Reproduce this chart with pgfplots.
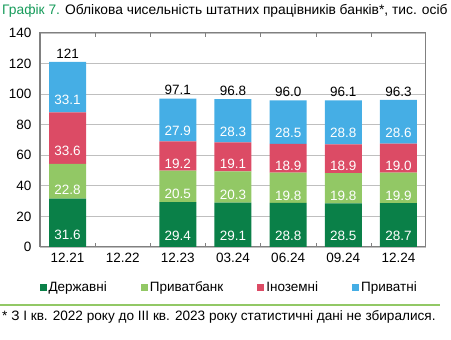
\documentclass[border=0pt]{standalone}
\usepackage{pgfplots}
\pgfplotsset{compat=1.18}
\usepackage{fontspec}
\setmainfont{Liberation Sans}
\definecolor{cDerzh}{RGB}{10,128,72}
\definecolor{cPryvat}{RGB}{146,200,101}
\definecolor{cInoz}{RGB}{220,75,101}
\definecolor{cPryv}{RGB}{69,174,229}
\definecolor{cTitle}{RGB}{22,155,90}
\definecolor{cLine}{RGB}{146,200,101}
\definecolor{cGrid}{RGB}{191,191,191}
\definecolor{cFrame}{RGB}{128,128,128}
\pgfplotsset{
  calculate offset/.code={%
    \pgfkeys{/pgf/fpu=true,/pgf/fpu/output format=fixed}%
    \pgfmathsetmacro\segoffset{\pgfplotspointmeta*0.38215}%
    \pgfkeys{/pgf/fpu=false}%
  },
  centered labels/.style={
    nodes near coords,
    nodes near coords style={/pgfplots/calculate offset, anchor=center, yshift=-\segoffset pt, text=white, font=\fontsize{13.5}{15}\selectfont,
      /pgf/number format/fixed, /pgf/number format/fixed zerofill, /pgf/number format/precision=1, /pgf/number format/assume math mode=true},
  },
  common/.style={
    at={(40pt,93pt)}, anchor=south west,
    scale only axis, width=386pt, height=214pt,
    xmin=-0.5, xmax=6.5, ymin=0, ymax=140,
  },
}
\begin{document}
\begin{tikzpicture}
\useasboundingbox (0,0) rectangle (451pt,340pt);
\node[anchor=west, inner sep=0pt, font=\fontsize{13.8}{16}\selectfont] at (2pt,329pt) {\textcolor{cTitle}{Графік 7.} Облікова чисельність штатних працівників банків*, тис. осіб};
\begin{axis}[
  common,
  ybar stacked, bar width=37pt,
  ytick={0,20,...,140},
  xtick={0,...,6},
  xticklabels={12.21,12.22,12.23,03.24,06.24,09.24,12.24},
  minor xtick={0.5,1.5,...,5.5},
  major x tick style={draw=none},
  minor tick length=4pt,
  minor x tick style={cFrame},
  y tick style={draw=none},
  ymajorgrids, grid style={cGrid, line width=0.8pt},
  axis line style={cFrame, line width=1pt},
  tick label style={font=\fontsize{13.5}{15}\selectfont},
  /pgf/number format/assume math mode=true,
  xticklabel style={yshift=-3pt},
  yticklabel style={xshift=-5pt},
  legend style={at={(0.49,-0.187)}, anchor=center, draw=none, fill=none,
    legend columns=4, font=\fontsize{13.5}{15}\selectfont,
    /tikz/every even column/.append style={column sep=32pt},
    inner sep=0pt},
  legend image code/.code={\fill[#1] (0pt,-3.5pt) rectangle (7pt,3.5pt);},
  legend cell align=left,
]
\addplot[fill=cDerzh, draw=none, centered labels] coordinates {(0,31.6) (2,29.4) (3,29.1) (4,28.8) (5,28.5) (6,28.7)};
\addplot[fill=cPryvat, draw=none, centered labels] coordinates {(0,22.8) (2,20.5) (3,20.3) (4,19.8) (5,19.8) (6,19.9)};
\addplot[fill=cInoz, draw=none, centered labels] coordinates {(0,33.6) (2,19.2) (3,19.1) (4,18.9) (5,18.9) (6,19.0)};
\addplot[fill=cPryv, draw=none, centered labels] coordinates {(0,33.1) (2,27.9) (3,28.3) (4,28.5) (5,28.8) (6,28.6)};
\legend{Державні,Приватбанк,Іноземні,Приватні}
\end{axis}
\begin{axis}[common, hide axis]
\addplot[draw=none, mark=none, nodes near coords, point meta=explicit symbolic,
  nodes near coords style={anchor=south, text=black, font=\fontsize{13.5}{15}\selectfont, yshift=0pt}]
  coordinates {(0,121)[121] (2,97.1)[97.1] (3,96.8)[96.8] (4,96.0)[96.0] (5,96.1)[96.1] (6,96.3)[96.3]};
\end{axis}
\draw[cLine, line width=1.7pt] (0pt,35pt) -- (440pt,35pt);
\node[anchor=west, inner sep=0pt, font=\fontsize{13.6}{15}\selectfont] at (2pt,23pt) {* З I кв. 2022 року до III кв. 2023 року статистичні дані не збиралися.};
\end{tikzpicture}
\end{document}
